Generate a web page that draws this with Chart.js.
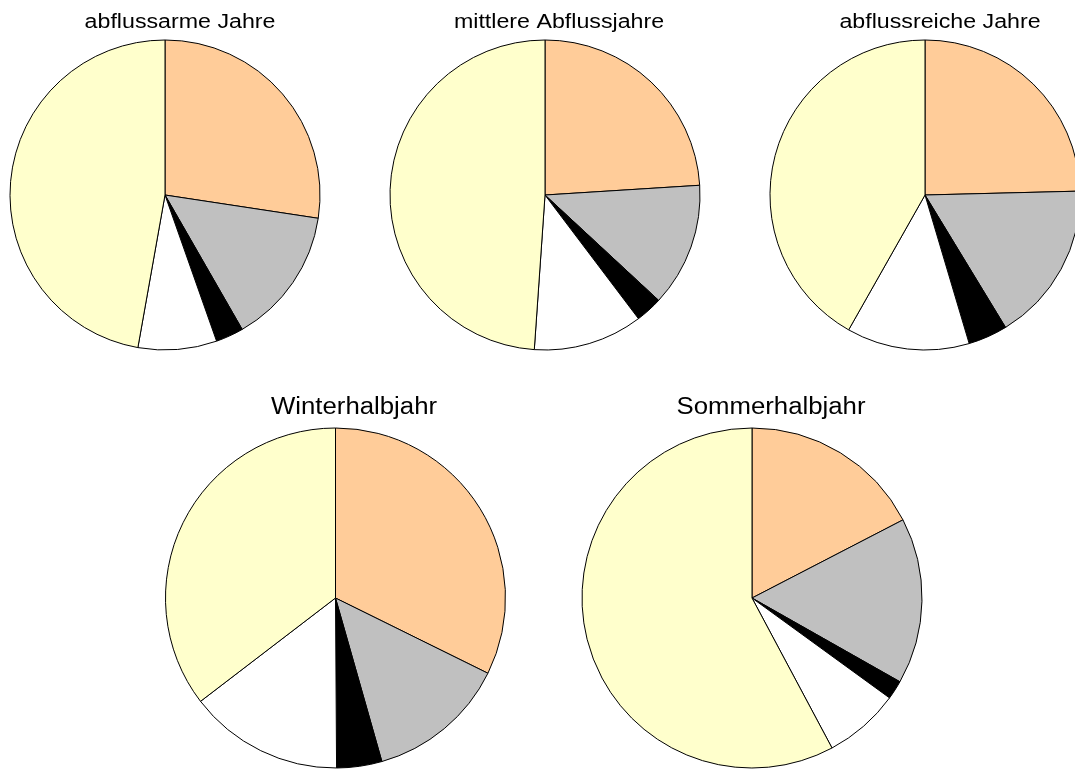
<!DOCTYPE html>
<html lang="de">
<head>
<meta charset="utf-8">
<title>Abflussanteile</title>
<script src="https://cdn.jsdelivr.net/npm/chart.js@4.4.1/dist/chart.umd.min.js"></script>
<style>
  html, body { margin: 0; padding: 0; background: #ffffff; }
  #stage { position: relative; width: 1075px; height: 769px; overflow: hidden; }
  #stage canvas { position: absolute; left: 0; top: 0; }
</style>
</head>
<body>
<div id="stage">
  <canvas id="c1" width="1075" height="769"></canvas>
  <canvas id="c2" width="1075" height="769"></canvas>
  <canvas id="c3" width="1075" height="769"></canvas>
  <canvas id="c4" width="1075" height="769"></canvas>
  <canvas id="c5" width="1075" height="769"></canvas>
</div>
<script>
// Slice order, clockwise from 12 o'clock
const sliceLabels = ['Anteil 1', 'Anteil 2', 'Anteil 3', 'Anteil 4', 'Anteil 5'];
const sliceColors = ['#FFCC99', '#C0C0C0', '#000000', '#FFFFFF', '#FFFFCC'];

// Chart titles
const titles = ['abflussarme Jahre', 'mittlere Abflussjahre', 'abflussreiche Jahre', 'Winterhalbjahr', 'Sommerhalbjahr'];

// Shares in percent
const abflussarmeJahre    = [27.4, 14.3, 2.9, 8.2, 47.2];
const mittlereJahre       = [24.0, 12.9, 2.8, 11.4, 48.9];
const abflussreicheJahre  = [24.6, 16.7, 4.1, 12.8, 41.8];
const winterhalbjahr      = [32.3, 13.3, 4.3, 14.7, 35.4];
const sommerhalbjahr      = [17.4, 15.8, 1.8, 7.2, 57.8];

const seriesList = [abflussarmeJahre, mittlereJahre, abflussreicheJahre, winterhalbjahr, sommerhalbjahr];

// Placement of each pie on the page: centre, radius, title anchor and font
const layouts = [
  { cx: 165,   cy: 195, r: 155, tx: 180, ty: 28,  size: 20, stretch: 1.16 },
  { cx: 545,   cy: 195, r: 155, tx: 559, ty: 28,  size: 20, stretch: 1.16 },
  { cx: 925,   cy: 195, r: 155, tx: 940, ty: 28,  size: 20, stretch: 1.16 },
  { cx: 335.5, cy: 598, r: 170, tx: 354, ty: 414, size: 23, stretch: 1.12 },
  { cx: 752,   cy: 598, r: 170, tx: 771, ty: 414, size: 23, stretch: 1.12 }
];

const W = 1075, H = 769;

// Horizontally stretched title text drawn on the chart canvas
const stretchedTitle = {
  id: 'stretchedTitle',
  afterDraw(chart, args, opts) {
    const ctx = chart.ctx;
    ctx.save();
    ctx.fillStyle = '#000000';
    ctx.font = opts.size + 'px "Liberation Sans", Arial, sans-serif';
    ctx.textAlign = 'center';
    ctx.textBaseline = 'alphabetic';
    ctx.translate(opts.x, opts.y);
    ctx.scale(opts.stretch, 1);
    ctx.fillText(opts.text, 0, 0);
    ctx.restore();
  }
};

seriesList.forEach((values, i) => {
  const L = layouts[i];
  // chart area kept symmetric round the centre and inside the canvas;
  // the explicit radius sets the pie size
  const half = 100;
  new Chart(document.getElementById('c' + (i + 1)), {
    type: 'pie',
    data: {
      labels: sliceLabels,
      datasets: [{
        data: values,
        backgroundColor: sliceColors,
        borderColor: '#000000',
        borderWidth: 1,
        clip: false
      }]
    },
    options: {
      responsive: false,
      devicePixelRatio: 1,
      animation: false,
      radius: L.r,
      rotation: 0,
      layout: {
        padding: {
          left: L.cx - half,
          right: W - (L.cx + half),
          top: L.cy - half,
          bottom: H - (L.cy + half)
        }
      },
      plugins: {
        legend: { display: false },
        tooltip: { enabled: false },
        title: { display: false },
        stretchedTitle: { text: titles[i], x: L.tx, y: L.ty, size: L.size, stretch: L.stretch }
      }
    },
    plugins: [stretchedTitle]
  });
});
</script>
</body>
</html>
